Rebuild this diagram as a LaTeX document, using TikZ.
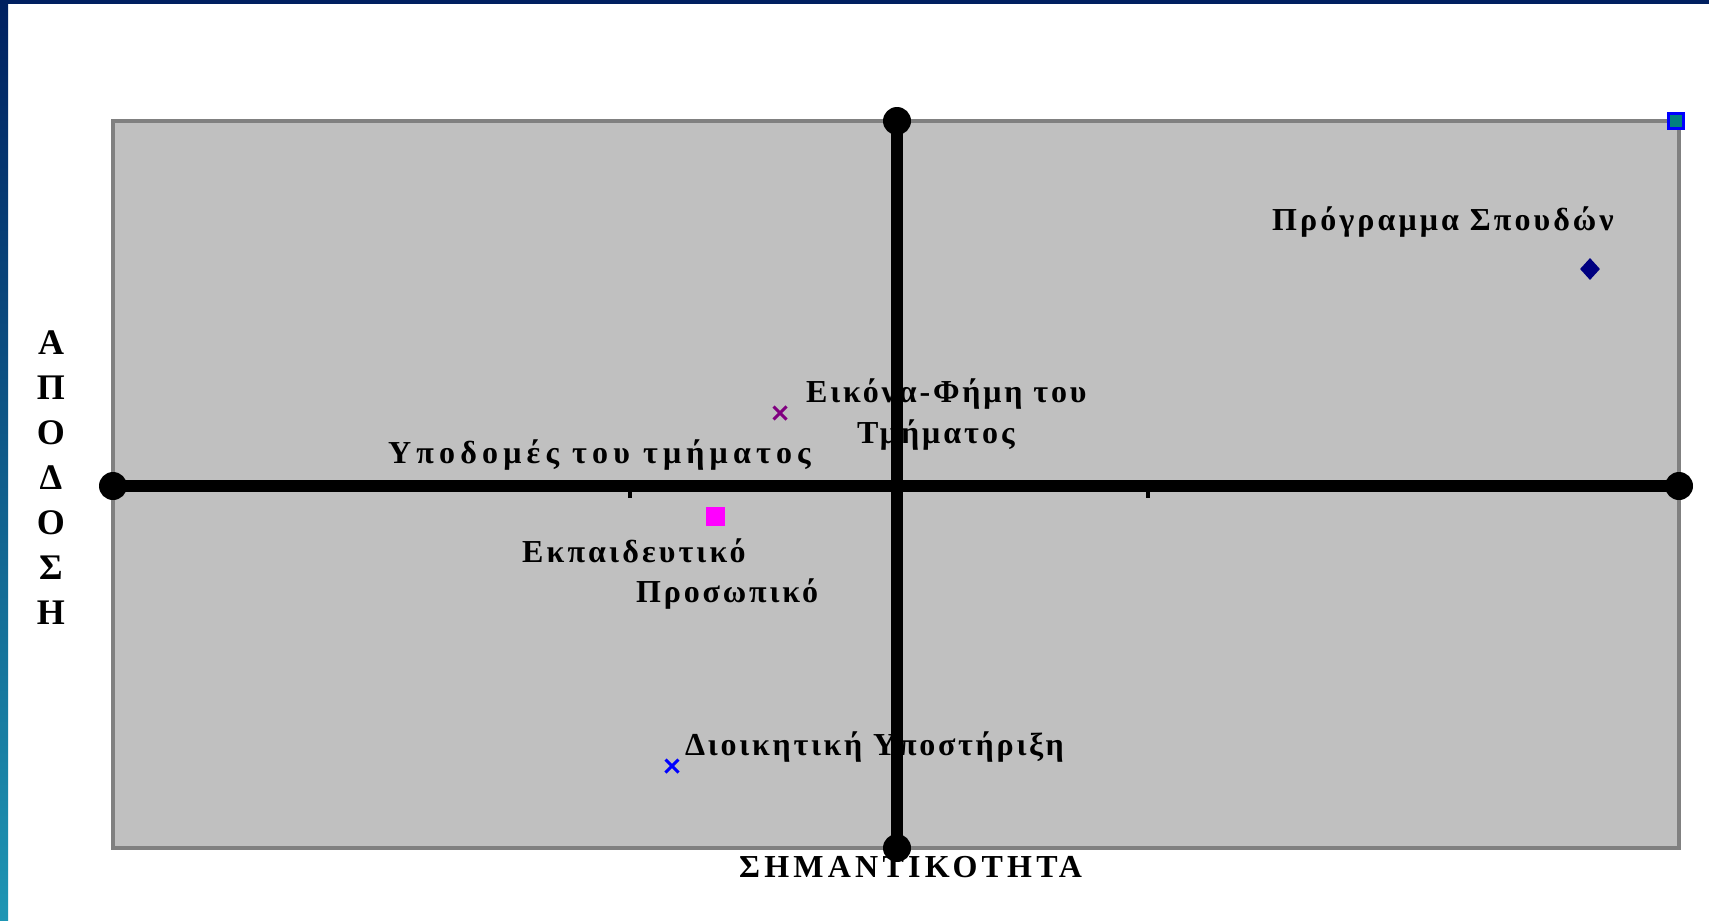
\documentclass[tikz,border=0pt]{standalone}
\usepackage{fontspec}
\setmainfont{Liberation Serif}
\usetikzlibrary{shapes.geometric,shapes.misc}
\definecolor{framenavy}{RGB}{0,32,96}
\definecolor{frameblue}{RGB}{0,50,150}
\definecolor{frameteal}{RGB}{30,150,180}
\definecolor{plotgray}{RGB}{192,192,192}
\definecolor{edgegray}{RGB}{128,128,128}
\definecolor{marknavy}{RGB}{0,0,128}
\definecolor{markteal}{RGB}{0,128,128}
\definecolor{markpurple}{RGB}{128,0,128}
\definecolor{markpink}{RGB}{255,0,255}
\definecolor{markblue}{RGB}{0,0,255}
\tikzset{
  lbl/.style={inner sep=0pt, anchor=base west,
    font=\fontsize{32}{38}\selectfont\bfseries\addfontfeatures{LetterSpace=#1}},
  lbl/.default=9,
  axisline/.style={line width=12pt},
  xmark/.style={cross out, draw=#1, line width=3pt, minimum size=10pt, inner sep=0pt},
}

\begin{document}
\begin{tikzpicture}[x=1pt, y=-1pt]
			%%%%% START %%%%%
			\useasboundingbox (0,0) rectangle (1709,921);
			\fill[white] (0,0) rectangle (1709,921);
			\fill[framenavy] (0,0) rectangle (1709,4);
			\shade[top color=framenavy, middle color=frameblue, bottom color=frameteal] (0,0) rectangle (8,921);
			
			\draw[edgegray, fill=plotgray, line width=4pt] (113,121) rectangle (1679,848);
			
			% labels
			\node[lbl=9.6] (prog) at (1272,230) {Πρόγραμμα Σπουδών};
			\node[lbl=8.9] (fimi) at (806,402) {Εικόνα-Φήμη του};
			\node[lbl=9.4] (tmim) at (857,443) {Τμήματος};
			\node[lbl=16.2] (ypod) at (388,463) {Υποδομές του τμήματος};
			\node[lbl=9.8] (ekp) at (522,562) {Εκπαιδευτικό};
			\node[lbl=8.9] (pros) at (636,602) {Προσωπικό};
			\node[lbl=8.6] (dioik) at (685,755) {Διοικητική Υποστήριξη};
			\node[lbl=13.2] (xlabel) at (739,877) {ΣΗΜΑΝΤΙΚΟΤΗΤΑ};
			\node[inner sep=0pt, align=center, font=\fontsize{36}{45}\selectfont\bfseries] (ylabel) at (51,478) {Α\\Π\\Ο\\Δ\\Ο\\Σ\\Η};
			
			% markers
			\node[draw=markblue, fill=markteal, line width=3pt, minimum size=15pt, inner sep=0pt] (progbox) at (1676,121) {};
			\node[diamond, fill=marknavy, minimum width=20pt, minimum height=22pt, inner sep=0pt] (progmark) at (1590,269) {};
			\node[xmark=markpurple] (fimimark) at (780,413) {};
			\node[fill=markpink, minimum size=19pt, inner sep=0pt] (prosmark) at (715,516) {};
			\node[xmark=markblue] (dioimark) at (672,766) {};
			
			% axes
			\coordinate (west) at (113,486);
			\coordinate (east) at (1679,486);
			\coordinate (north) at (897,121);
			\coordinate (south) at (897,848);
			\draw[line width=4pt] (630,490) -- (630,498);
			\draw[line width=4pt] (1148,490) -- (1148,498);
			\draw[axisline] (west) -- (east);
			\draw[axisline] (north) -- (south);
			\foreach \p in {west,east,north,south}
				\fill (\p) circle (14);
			
			%%%%% END %%%%%
\end{tikzpicture}
\end{document}
